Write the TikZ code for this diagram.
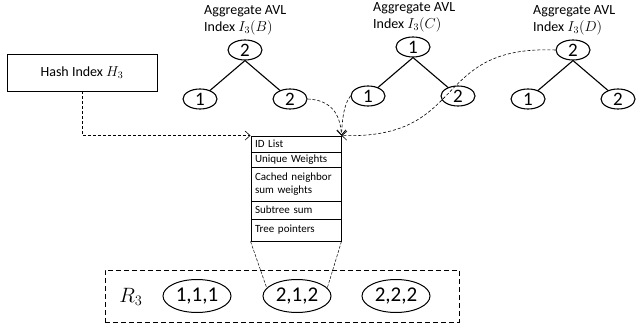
\documentclass[tikz,border=0pt]{standalone}
\usepackage{fontspec}
\setmainfont{Carlito}
\usetikzlibrary{shapes.geometric, positioning, arrows.meta}

\begin{document}
\begin{tikzpicture}[x=1pt, y=-1pt,
	avl/.style={ellipse, draw, line width=1.1pt, inner sep=0pt, minimum width=34pt, minimum height=20pt, font=\fontsize{19}{22}\selectfont},
	rec/.style={ellipse, draw, line width=1pt, inner sep=0pt, minimum width=68pt, minimum height=33pt, font=\fontsize{21}{25}\selectfont},
	tabrow/.style={rectangle, draw, line width=0.9pt, minimum width=90pt, text width=82pt, inner xsep=4pt, inner ysep=0pt, align=left, font=\fontsize{11}{13}\selectfont},
	lbl/.style={anchor=north west, inner sep=0pt, align=left, font=\fontsize{14}{17}\selectfont},
	ptr/.style={-{Straight Barb[length=5pt, width=9pt]}, densely dashed, line width=0.6pt}]
	\useasboundingbox (0,0) rectangle (637,331);
		% aggregate AVL trees
		\foreach \t/\x/\y/\r/\lx in {
			B/245/50/2/204,
			C/413/47/1/373,
			D/573/50/2/533
		 }{
			\node[lbl] (lbl\t) at (\lx,\y-45) {Aggregate AVL\\Index $I_3(\t)$};
			\node[avl] (\t0) at (\x,\y) {\r};
			\node[avl] (\t1) at (\x-45,\y+49) {1};
			\node[avl] (\t2) at (\x+45,\y+49) {2};
			\draw[line width=1.1pt] (\t0.south) -- (\t1);
			\draw[line width=1.1pt] (\t0.south) -- (\t2);
		 }
		% node record
		\foreach \y/\h/\name/\txt in {
			144/16/tid/{ID List},
			159.5/15/tuw/{Unique Weights},
			184/34/tcn/{Cached neighbor\\sum weights},
			210/18/tst/{Subtree sum},
			230/22/ttp/{Tree pointers}
		 }{
			\node[tabrow, minimum height=\h pt] (\name) at (296,\y) {\txt};
		 }
		\node[draw, line width=0.9pt, minimum width=150pt, minimum height=37pt, font=\fontsize{14}{17}\selectfont] (hash) at (82,72.5) {Hash Index $H_3$};
		\draw[ptr] (hash.south) |- (tid.north west);
		\draw[ptr] (B2.east) .. controls +(24,1) and +(-1,-21) .. (tid.north east);
		\draw[ptr] (C1.west) .. controls +(-6,8) and +(1,-20) .. (tid.north east);
		\draw[ptr] (D0.west) .. controls +(-126,-5) and +(128,4) .. (tid.north east);
		% relation R3
		\node[draw, dash pattern=on 5pt off 3pt, line width=0.8pt, minimum width=354pt, minimum height=52pt] (rbox) at (282,296) {};
		\node[font=\fontsize{21}{25}\selectfont] (r3) at (131,297) {$R_3$};
		\node[rec] (e111) at (197,296) {1,1,1};
		\node[rec] (e212) at (297,296) {2,1,2};
		\node[rec] (e222) at (396,296) {2,2,2};
		\draw[dash pattern=on 3pt off 1.5pt, line width=0.5pt] (ttp.south west) -- (e212.165);
		\draw[dash pattern=on 3pt off 1.5pt, line width=0.5pt] (ttp.south east) -- (e212.15);
\end{tikzpicture}
\end{document}
